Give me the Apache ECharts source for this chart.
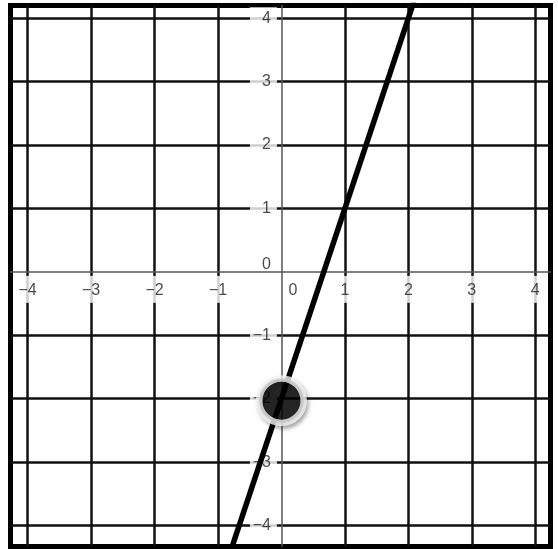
<!DOCTYPE html>
<html>
<head>
<meta charset="utf-8">
<script src="https://cdn.jsdelivr.net/npm/echarts@6/dist/echarts.min.js"></script>
<style>
  html, body { margin: 0; padding: 0; background: #fff; }
  #chart { width: 558px; height: 549px; }
</style>
</head>
<body>
<div id="chart"></div>
<script>
// axis ranges (what is visible inside the frame)
const xRange = [-4.27, 4.24]
const yRange = [-4.33, 4.2]
// tick labels / grid lines
const xTicks = [-4, -3, -2, -1, 0, 1, 2, 3, 4]
const yTicks = [-4, -3, -2, -1, 0, 1, 2, 3, 4]
// the drawn line y = 3x - 2, its two ends
const lineX = [-0.8, 2.1]
const lineY = [-4.4, 4.3]
// the big dot on the y axis
const pointX = [0]
const pointY = [-2.03]

const font = 'Liberation Sans, Arial, sans-serif'
const fmt = v => (v < 0 ? '\u2212' + Math.abs(v) : String(v))

const chart = echarts.init(document.getElementById('chart'))

// grid lines (the zero ones are the thin axis lines)
const gridLines = xTicks.filter(v => v !== 0).map(v => ({ xAxis: v }))
  .concat(yTicks.filter(v => v !== 0).map(v => ({ yAxis: v })))

// tick labels are put on the axes through the scales, as point labels
const hiddenDot = { symbolSize: 1, itemStyle: { color: 'rgba(0,0,0,0)' }, silent: true, z: 2 }
const labelText = { fontFamily: font, fontSize: 16, lineHeight: 18, color: '#1a1a1a', backgroundColor: '#fff' }

const option = {
  animation: false,
  grid: {
    left: 10.5, right: 7.5, top: 5.5, bottom: 2.5,
    outerBoundsMode: 'none',
    containLabel: false,
    show: true, borderColor: '#000', borderWidth: 5, z: 0
  },
  xAxis: {
    type: 'value', min: xRange[0], max: xRange[1], z: 2.5,
    axisLine: { onZero: true, lineStyle: { color: '#555', width: 1.5 } },
    axisTick: { show: false },
    splitLine: { show: false },
    axisLabel: { show: false }
  },
  yAxis: {
    type: 'value', min: yRange[0], max: yRange[1], z: 2.5,
    axisLine: { onZero: true, lineStyle: { color: '#555', width: 1.5 } },
    axisTick: { show: false },
    splitLine: { show: false },
    axisLabel: { show: false }
  },
  series: [
    {
      type: 'line',
      data: [],
      z: 1,
      silent: true,
      markLine: {
        z: 1,
        silent: true,
        symbol: 'none',
        animation: false,
        label: { show: false },
        lineStyle: { color: '#111', width: 2.5, type: 'solid' },
        emphasis: { disabled: true },
        data: gridLines
      }
    },
    Object.assign({
      type: 'scatter',
      data: xTicks.map(v => (v === 0
        ? { value: [v, 0], label: { backgroundColor: 'transparent', offset: [11.5, 0] } }
        : [v, 0])),
      label: Object.assign({
        show: true,
        position: 'bottom',
        distance: 3.5,
        padding: [6, 3, 3, 3],
        formatter: p => fmt(p.value[0])
      }, labelText)
    }, hiddenDot),
    Object.assign({
      type: 'scatter',
      data: yTicks.map(v => (v === 0
        ? { value: [0, v], label: { backgroundColor: 'transparent', offset: [0, -7] } }
        : [0, v])),
      label: Object.assign({
        show: true,
        position: 'left',
        distance: 4,
        width: 20,
        align: 'right',
        padding: [2, 6, 2, 1],
        formatter: p => fmt(p.value[1])
      }, labelText)
    }, hiddenDot),
    {
      type: 'line',
      data: lineX.map((x, i) => [x, lineY[i]]),
      showSymbol: false,
      clip: true,
      z: 3,
      lineStyle: { color: '#000', width: 5.5 }
    },
    {
      type: 'scatter',
      data: pointX.map((x, i) => [x, pointY[i]]),
      symbolSize: 44.5,
      z: 4,
      itemStyle: {
        color: '#000',
        borderColor: '#f3f3f3',
        borderWidth: 6.5,
        shadowColor: 'rgba(0,0,0,0.35)',
        shadowBlur: 4,
        shadowOffsetX: 2,
        shadowOffsetY: 3
      }
    }
  ]
}

chart.setOption(option)
</script>
</body>
</html>
